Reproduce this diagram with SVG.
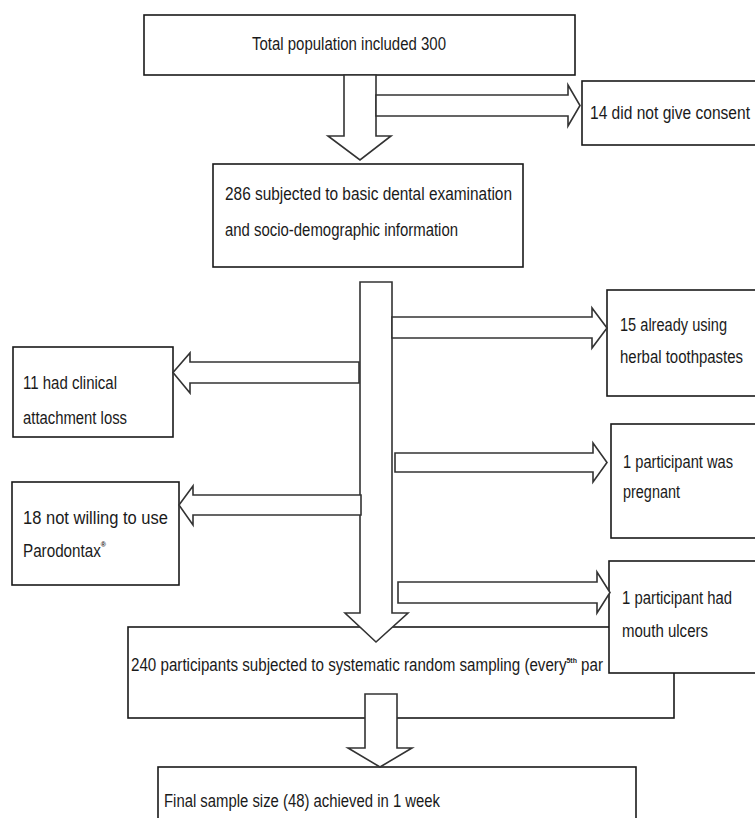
<svg xmlns="http://www.w3.org/2000/svg" width="755" height="818" viewBox="0 0 755 818">
<style>
.box{fill:#fff;stroke:#1a1a1a;stroke-width:1.6}
.arr{fill:#fff;stroke:#333;stroke-width:1.6;stroke-linejoin:miter}
.t{font-family:"Liberation Sans",Arial,sans-serif;font-size:17.5px;fill:#1a1a1a}
.sup{font-size:8px;font-weight:bold}
</style>
<rect width="755" height="818" fill="#fff"/>
<g id="n-total">
<rect class="box" x="144" y="15" width="431" height="60"/>
<text class="t" x="252" y="50" textLength="194" lengthAdjust="spacingAndGlyphs">Total population included 300</text>
</g>
<g id="n-consent">
<rect class="box" x="582" y="81" width="180" height="64"/>
<text class="t" x="590" y="119" textLength="160" lengthAdjust="spacingAndGlyphs">14 did not give consent</text>
</g>
<g id="n-286">
<rect class="box" x="213" y="164" width="310" height="103"/>
<text class="t" x="225" y="200" textLength="287" lengthAdjust="spacingAndGlyphs">286 subjected to basic dental examination</text>
<text class="t" x="225" y="236" textLength="233" lengthAdjust="spacingAndGlyphs">and socio-demographic information</text>
</g>
<g id="n-herbal">
<rect class="box" x="607" y="290" width="155" height="106"/>
<text class="t" x="620" y="331" textLength="107" lengthAdjust="spacingAndGlyphs">15 already using</text>
<text class="t" x="620" y="363" textLength="123" lengthAdjust="spacingAndGlyphs">herbal toothpastes</text>
</g>
<g id="n-cal">
<rect class="box" x="13" y="347" width="160" height="90"/>
<text class="t" x="23" y="389" textLength="94" lengthAdjust="spacingAndGlyphs">11 had clinical</text>
<text class="t" x="23" y="424" textLength="104" lengthAdjust="spacingAndGlyphs">attachment loss</text>
</g>
<g id="n-pregnant">
<rect class="box" x="611" y="424" width="151" height="114"/>
<text class="t" x="623" y="468" textLength="110" lengthAdjust="spacingAndGlyphs">1 participant was</text>
<text class="t" x="623" y="498" textLength="57" lengthAdjust="spacingAndGlyphs">pregnant</text>
</g>
<g id="n-parodontax">
<rect class="box" x="12" y="482" width="167" height="103"/>
<text class="t" x="23" y="524" textLength="145" lengthAdjust="spacingAndGlyphs">18 not willing to use</text>
<text class="t" x="23" y="557" textLength="83" lengthAdjust="spacingAndGlyphs">Parodontax<tspan class="sup" dy="-10">®</tspan></text>
</g>
<g id="n-240">
<rect class="box" x="128" y="627" width="546" height="91"/>
<text class="t" x="131" y="671" textLength="472" lengthAdjust="spacingAndGlyphs">240 participants subjected to systematic random sampling (every<tspan class="sup" dy="-8">5th</tspan><tspan dy="8"> par</tspan></text>
</g>
<g id="n-ulcers">
<rect class="box" x="609" y="561" width="153" height="112"/>
<text class="t" x="622" y="604" textLength="110" lengthAdjust="spacingAndGlyphs">1 participant had</text>
<text class="t" x="622" y="637" textLength="86" lengthAdjust="spacingAndGlyphs">mouth ulcers</text>
</g>
<g id="n-final">
<rect class="box" x="158" y="767" width="478" height="60"/>
<text class="t" x="164" y="807" textLength="276" lengthAdjust="spacingAndGlyphs">Final sample size (48) achieved in 1 week</text>
</g>
<g id="connectors">
<polygon class="arr" points="344,75 376,75 376,136 391,136 360,160 328,136 344,136"/>
<polygon class="arr" points="376,95 568,95 568,85 580,105.5 568,126 568,116 376,116"/>
<polygon class="arr" points="360,282 392,282 392,613 408,613 376,642 345,613 360,613"/>
<polygon class="arr" points="392,317 592,317 592,308 607,328 592,348 592,338 392,338"/>
<polygon class="arr" points="359,362 190,362 190,353 173,372.5 190,393 190,383 359,383"/>
<polygon class="arr" points="395,453 593,453 593,443 607,462.5 593,482 593,472 395,472"/>
<polygon class="arr" points="361,495 193,495 193,486 179,505 193,525 193,515 361,515"/>
<polygon class="arr" points="398,582 597,582 597,572 610,592.5 597,613 597,603 398,603"/>
<polygon class="arr" points="365,694 397,694 397,748 412,748 380,767 348,748 365,748"/>
</g>
</svg>
